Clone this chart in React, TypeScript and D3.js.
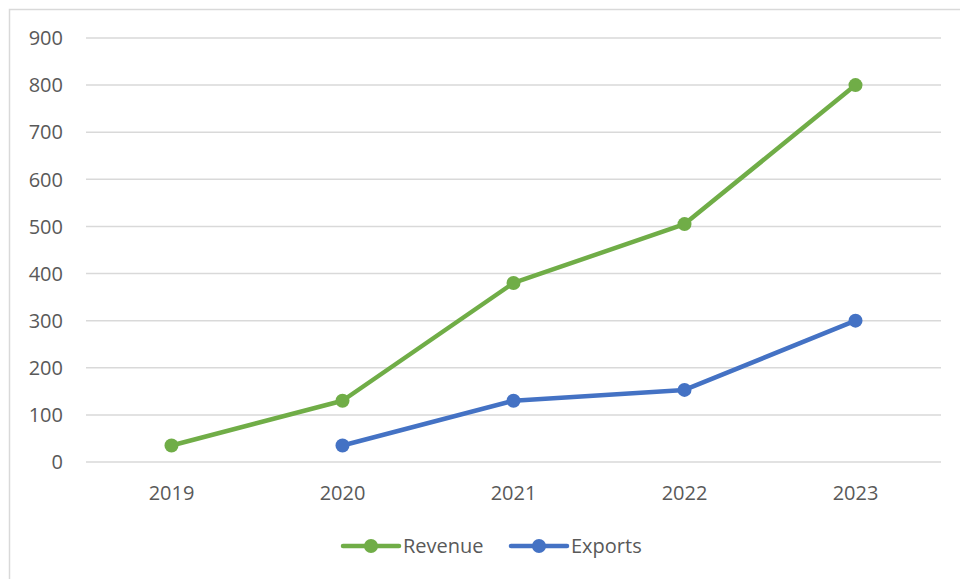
import React from "react";
import * as d3 from "d3";

const categories = ["2019", "2020", "2021", "2022", "2023"];
const revenue: (number | null)[] = [35, 130, 380, 505, 800];
const exportsVals: (number | null)[] = [null, 35, 130, 153, 300];
const yTicks = [0, 100, 200, 300, 400, 500, 600, 700, 800, 900];
const seriesNames = ["Revenue", "Exports"];
const seriesColors = ["#70AD47", "#4472C4"];

export default function App() {
  const W = 960, H = 579;
  const x = d3.scaleBand<string>().domain(categories).range([86, 941]);
  const y = d3.scaleLinear().domain([0, 900]).range([462, 38]);
  const font = "'Open Sans', 'Liberation Sans', sans-serif";
  const fs = 20;
  const series = [revenue, exportsVals];
  const line = d3
    .line<number | null>()
    .defined((d) => d !== null)
    .x((_, i) => (x(categories[i]) as number) + x.bandwidth() / 2)
    .y((d) => y(d as number));
  const legendX = [343, 511];
  return (
    <svg width={W} height={H} style={{ position: "absolute", left: 0, top: 0 }}>
      <rect x={0} y={0} width={W} height={H} fill="#fff" />
      <rect x={9.5} y={9.5} width={W + 10} height={H + 10} fill="none" stroke="#d9d9d9" strokeWidth={1.5} />
      {yTicks.map((t) => (
        <g key={t}>
          <line x1={86} x2={941} y1={y(t)} y2={y(t)} stroke="#d9d9d9" strokeWidth={1.5} />
          <text x={63} y={y(t)} dy="0.36em" textAnchor="end" fontFamily={font} fontSize={fs} fill="#595959">
            {t}
          </text>
        </g>
      ))}
      {categories.map((c) => (
        <text key={c} x={(x(c) as number) + x.bandwidth() / 2} y={493} dy="0.36em" textAnchor="middle" fontFamily={font} fontSize={fs} fill="#595959">
          {c}
        </text>
      ))}
      {series.map((s, si) => (
        <g key={si}>
          <path d={line(s) || ""} fill="none" stroke={seriesColors[si]} strokeWidth={4.5} strokeLinejoin="round" strokeLinecap="round" />
          {s.map((v, i) =>
            v === null ? null : (
              <circle key={i} cx={(x(categories[i]) as number) + x.bandwidth() / 2} cy={y(v)} r={7} fill={seriesColors[si]} />
            )
          )}
        </g>
      ))}
      {seriesNames.map((n, i) => (
        <g key={n}>
          <line x1={legendX[i]} x2={legendX[i] + 56} y1={546} y2={546} stroke={seriesColors[i]} strokeWidth={4.5} strokeLinecap="round" />
          <circle cx={legendX[i] + 28} cy={546} r={7} fill={seriesColors[i]} />
          <text x={legendX[i] + 60} y={546} dy="0.36em" fontFamily={font} fontSize={fs} fill="#595959">
            {n}
          </text>
        </g>
      ))}
    </svg>
  );
}
